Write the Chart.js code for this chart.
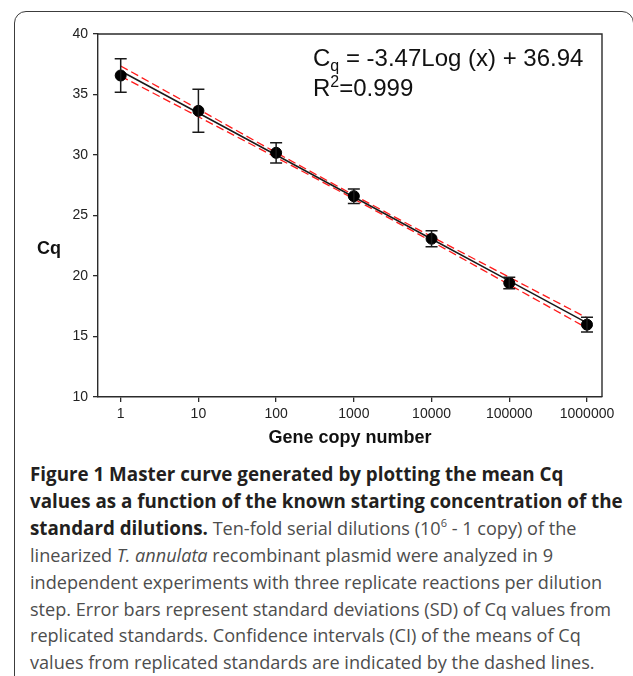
<!DOCTYPE html>
<html>
<head>
<meta charset="utf-8">
<script src="https://cdn.jsdelivr.net/npm/chart.js@4.4.1/dist/chart.umd.min.js"></script>
<style>
  html, body { margin: 0; padding: 0; background: #fff; }
  body { width: 633px; height: 676px; position: relative; overflow: hidden; }
  .frame {
    position: absolute; left: 14px; top: 11px; width: 620px; height: 720px;
    border: 1.5px solid #3c3c3c; border-radius: 12px 12px 0 0; box-sizing: border-box;
  }
  .chartBox { position: absolute; left: 0; top: 0; width: 633px; height: 460px; }
  .caption {
    position: absolute; left: 30px; top: 461px;
    font-family: "Open Sans", sans-serif; font-size: 18.1px; line-height: 26.9px;
    color: #4d4d4d; white-space: nowrap;
  }
  .caption b { color: #231f20; font-weight: 700; font-size: 18.8px; }
  .caption sup { font-size: 11px; line-height: 0; vertical-align: 8px; }
</style>
</head>
<body>
<div class="frame"></div>
<div class="chartBox"><canvas id="curve" width="633" height="460"></canvas></div>
<div class="caption">
  <b>Figure 1 Master curve generated by plotting the mean Cq</b><br>
  <b>values as a function of the known starting concentration of the</b><br>
  <b>standard dilutions.</b> Ten-fold serial dilutions (10<sup>6</sup> - 1 copy) of the<br>
  linearized <i>T. annulata</i> recombinant plasmid were analyzed in 9<br>
  independent experiments with three replicate reactions per dilution<br>
  step. Error bars represent standard deviations (SD) of Cq values from<br>
  replicated standards. Confidence intervals (CI) of the means of Cq<br>
  values from replicated standards are indicated by the dashed lines.
</div>
<script>
// gene copy numbers (x) and the values
const copyNumbers = [1, 10, 100, 1000, 10000, 100000, 1000000];
const meanCq = [36.57, 33.65, 30.18, 26.60, 23.08, 19.42, 15.98];
const sdCq = [1.38, 1.78, 0.84, 0.60, 0.66, 0.47, 0.61];
const fitCq = [36.94, 33.47, 30.00, 26.53, 23.06, 19.59, 16.12];
const ciUpper = [37.36, 33.78, 30.20, 26.69, 23.26, 19.90, 16.54];
const ciLower = [36.52, 33.16, 29.80, 26.37, 22.86, 19.28, 15.70];
const yTicks = [10, 15, 20, 25, 30, 35, 40];

const INK = "#1a1a1a";
const AXIS = "#2b2b2b";
const FONT = "Arial, 'Liberation Sans'";

const toXY = (ys) => copyNumbers.map((x, i) => ({ x, y: ys[i] }));

// error bars + box + labels that chart.js has no option for
const extras = {
  id: "extras",
  afterDatasetsDraw(chart) {
    const { ctx, chartArea, scales } = chart;
    const xs = scales.x, ys = scales.y;
    ctx.save();
    ctx.strokeStyle = INK;
    ctx.lineWidth = 1.5;
    copyNumbers.forEach((c, i) => {
      const px = xs.getPixelForValue(c);
      const top = ys.getPixelForValue(meanCq[i] + sdCq[i]);
      const bot = ys.getPixelForValue(meanCq[i] - sdCq[i]);
      ctx.beginPath();
      ctx.moveTo(px, top); ctx.lineTo(px, bot);
      ctx.moveTo(px - 6, top); ctx.lineTo(px + 6, top);
      ctx.moveTo(px - 6, bot); ctx.lineTo(px + 6, bot);
      ctx.stroke();
    });
    // top and right side of the plot box
    ctx.strokeStyle = AXIS;
    ctx.lineWidth = 1.4;
    ctx.beginPath();
    ctx.moveTo(chartArea.left, chartArea.top);
    ctx.lineTo(chartArea.right, chartArea.top);
    ctx.lineTo(chartArea.right, chartArea.bottom);
    ctx.stroke();

    // regression equation
    ctx.fillStyle = "#111";
    ctx.textBaseline = "alphabetic";
    ctx.textAlign = "left";
    let x = chartArea.left + 215;
    const b1 = chartArea.top + 32, b2 = chartArea.top + 62;
    ctx.font = "24px " + FONT;
    ctx.fillText("C", x, b1);
    x += ctx.measureText("C").width;
    ctx.font = "16px " + FONT;
    ctx.fillText("q", x, b1 + 5);
    x += ctx.measureText("q").width;
    ctx.font = "24px " + FONT;
    ctx.fillText(" = -3.47Log (x) + 36.94", x, b1);

    x = chartArea.left + 215;
    ctx.fillText("R", x, b2);
    x += ctx.measureText("R").width;
    ctx.font = "16px " + FONT;
    ctx.fillText("2", x, b2 - 9);
    x += ctx.measureText("2").width;
    ctx.font = "24px " + FONT;
    ctx.fillText("=0.999", x, b2);

    // y title, horizontal
    ctx.font = "bold 18px " + FONT;
    ctx.textAlign = "center";
    ctx.fillText("Cq", 49, 254);
    ctx.restore();
  },
};

new Chart(document.getElementById("curve"), {
  type: "scatter",
  data: {
    datasets: [
      {
        label: "Mean Cq",
        data: toXY(meanCq),
        showLine: false,
        pointRadius: 5.5,
        pointBackgroundColor: "#000",
        pointBorderColor: "#000",
        order: 0,
      },
      {
        label: "Fit",
        data: toXY(fitCq),
        showLine: true,
        borderColor: INK,
        borderWidth: 1.5,
        pointRadius: 0,
        order: 1,
      },
      {
        label: "CI upper",
        data: toXY(ciUpper),
        showLine: true,
        borderColor: "#ff1a1a",
        borderWidth: 1.3,
        borderDash: [8, 4],
        pointRadius: 0,
        cubicInterpolationMode: "monotone",
        order: 2,
      },
      {
        label: "CI lower",
        data: toXY(ciLower),
        showLine: true,
        borderColor: "#ff1a1a",
        borderWidth: 1.3,
        borderDash: [8, 4],
        pointRadius: 0,
        cubicInterpolationMode: "monotone",
        order: 2,
      },
    ],
  },
  options: {
    responsive: false,
    animation: false,
    layout: { padding: { left: 0, top: 34, right: 31, bottom: 0 } },
    plugins: { legend: { display: false }, tooltip: { enabled: false } },
    scales: {
      x: {
        type: "logarithmic",
        min: 0.5105,
        max: 1560000,
        afterBuildTicks: (s) => { s.ticks = copyNumbers.map((v) => ({ value: v })); },
        afterFit: (s) => { s.height = 63; },
        grid: { drawOnChartArea: false, drawTicks: true, tickLength: 5, color: AXIS, lineWidth: 1.3 },
        border: { color: AXIS, width: 1.4 },
        ticks: {
          padding: 4,
          color: "#222",
          font: { family: FONT, size: 14 },
          callback: (v) => String(Math.round(v)),
        },
        title: {
          display: true,
          text: "Gene copy number",
          color: "#111",
          font: { family: FONT, size: 18, weight: "bold" },
          padding: { top: 0, bottom: 11 },
        },
      },
      y: {
        min: 10,
        max: 40,
        afterBuildTicks: (s) => { s.ticks = yTicks.map((v) => ({ value: v })); },
        afterFit: (s) => { s.width = 98; },
        grid: { drawOnChartArea: false, drawTicks: true, tickLength: 5, color: AXIS, lineWidth: 1.3 },
        border: { color: AXIS, width: 1.4 },
        ticks: {
          padding: 5,
          color: "#222",
          font: { family: FONT, size: 14 },
        },
      },
    },
  },
  plugins: [extras],
});
</script>
</body>
</html>
